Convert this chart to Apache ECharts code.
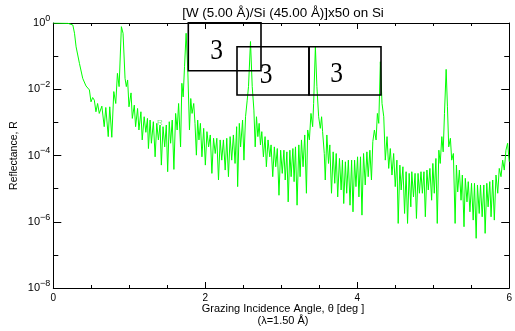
<!DOCTYPE html>
<html><head><meta charset="utf-8">
<script src="https://cdn.jsdelivr.net/npm/echarts@6/dist/echarts.min.js"></script>
<style>html,body{margin:0;padding:0;background:#fff;}#c{width:515px;height:331px;}</style>
</head><body><div id="c"></div>
<script>
// Grazing incidence angle (deg)
const theta = [
0.000,0.192,0.257,0.279,0.300,0.344,0.387,0.430,0.453,0.475,
0.496,0.518,0.540,0.561,0.583,0.605,0.639,0.670,0.691,0.723,
0.743,0.770,0.796,0.822,0.844,0.866,0.896,0.918,0.944,0.961,
0.978,0.996,1.023,1.040,1.066,1.083,1.109,1.127,1.153,1.170,
1.196,1.218,1.239,1.252,1.274,1.291,1.317,1.340,1.362,1.383,
1.405,1.422,1.444,1.466,1.487,1.505,1.526,1.544,1.565,1.587,
1.610,1.630,1.649,1.675,1.692,1.709,1.727,1.748,1.770,1.792,
1.809,1.826,1.848,1.865,1.883,1.900,1.917,1.936,1.956,1.979,
2.001,2.022,2.044,2.066,2.087,2.109,2.131,2.152,2.174,2.196,
2.217,2.239,2.262,2.283,2.305,2.327,2.348,2.370,2.392,2.413,
2.426,2.448,2.465,2.491,2.509,2.530,2.552,2.569,2.595,2.618,
2.640,2.657,2.674,2.692,2.709,2.726,2.744,2.765,2.787,2.804,
2.826,2.849,2.866,2.888,2.909,2.927,2.948,2.970,2.992,3.013,
3.035,3.052,3.074,3.091,3.113,3.130,3.153,3.169,3.187,3.208,
3.231,3.248,3.266,3.287,3.309,3.331,3.348,3.370,3.391,3.413,
3.426,3.449,3.469,3.492,3.514,3.531,3.544,3.566,3.579,3.600,
3.622,3.639,3.661,3.683,3.704,3.723,3.743,3.766,3.788,3.805,
3.822,3.844,3.861,3.883,3.905,3.926,3.944,3.965,3.983,4.004,
4.022,4.043,4.062,4.083,4.105,4.127,4.144,4.166,4.187,4.205,
4.226,4.248,4.265,4.283,4.304,4.326,4.349,4.369,4.392,4.414,
4.435,4.457,4.479,4.500,4.522,4.539,4.561,4.578,4.601,4.623,
4.643,4.662,4.683,4.705,4.718,4.740,4.761,4.779,4.800,4.818,
4.839,4.857,4.878,4.896,4.917,4.935,4.956,4.979,4.995,5.014,
5.035,5.053,5.074,5.092,5.113,5.131,5.148,5.170,5.187,5.204,
5.226,5.243,5.265,5.288,5.305,5.322,5.344,5.366,5.383,5.405,
5.422,5.444,5.461,5.483,5.504,5.526,5.543,5.565,5.582,5.605,
5.622,5.644,5.666,5.683,5.705,5.722,5.744,5.761,5.783,5.804,
5.826,5.849,5.869,5.892,5.914,5.935,5.957,5.979,6.000];

// Reflectance R, read as log10(R)
const logR = [
0.00,-0.01,-0.06,-0.31,-0.72,-1.22,-1.67,-1.90,-1.92,-2.02,
-2.38,-2.25,-2.33,-2.68,-2.43,-2.73,-2.51,-3.13,-2.55,-3.43,
-2.53,-3.45,-2.07,-2.43,-1.52,-1.92,-0.11,-0.31,-1.67,-1.92,
-1.72,-2.53,-2.11,-2.88,-2.48,-3.13,-2.58,-3.23,-2.68,-3.53,
-2.83,-3.30,-2.88,-3.79,-2.93,-3.63,-2.98,-4.04,-3.03,-3.53,
-3.08,-4.29,-3.13,-3.74,-3.08,-4.49,-2.98,-3.63,-2.93,-4.42,
-2.73,-3.23,-2.43,-3.74,-1.82,-2.23,-1.32,-0.31,-1.42,-3.23,
-2.28,-2.73,-2.43,-3.03,-3.99,-2.93,-3.53,-3.03,-4.04,-3.18,
-4.29,-3.28,-3.74,-3.38,-4.54,-3.48,-3.94,-3.48,-4.74,-3.53,
-4.14,-3.53,-4.44,-3.48,-4.64,-3.43,-4.14,-3.38,-4.24,-3.13,
-4.94,-3.03,-3.74,-2.93,-4.14,-2.83,-2.33,-1.92,-0.56,-1.92,
-2.63,-3.74,-2.83,-3.43,-3.03,-3.68,-3.28,-4.04,-3.43,-4.34,
-3.53,-4.04,-3.68,-4.64,-3.74,-4.34,-3.79,-5.20,-3.84,-4.54,
-3.84,-4.74,-3.89,-5.40,-3.84,-4.64,-3.79,-4.79,-3.74,-5.50,
-3.68,-4.64,-3.53,-4.34,-3.38,-5.14,-3.23,-3.53,-2.73,-3.13,
-2.43,-0.72,-1.92,-2.83,-3.18,-2.83,-3.28,-3.94,-4.74,-3.38,
-4.24,-3.68,-5.14,-3.89,-4.84,-3.94,-5.25,-4.09,-5.04,-4.14,
-5.45,-4.19,-5.14,-4.14,-5.50,-4.14,-5.70,-4.14,-4.94,-4.04,
-5.25,-4.04,-5.80,-3.94,-4.89,-3.89,-4.64,-3.84,-4.74,-3.58,
-3.23,-3.53,-2.73,-3.03,-1.17,-2.43,-2.83,-4.14,-3.43,-4.39,
-3.79,-4.59,-3.94,-4.94,-4.14,-6.05,-4.29,-5.04,-4.34,-5.75,
-4.49,-6.05,-4.54,-5.55,-4.49,-5.25,-4.54,-5.90,-4.54,-5.14,
-4.49,-5.14,-4.49,-5.85,-4.44,-5.04,-4.39,-5.35,-4.24,-5.14,
-4.09,-6.05,-3.84,-4.24,-3.43,-3.89,-2.73,-1.40,-2.53,-3.74,
-3.48,-4.14,-3.94,-6.05,-4.29,-5.10,-4.44,-5.35,-4.59,-6.15,
-4.69,-5.40,-4.79,-5.70,-4.84,-5.95,-4.84,-6.50,-4.89,-5.75,
-4.89,-5.85,-4.89,-6.35,-4.84,-5.55,-4.79,-5.85,-4.74,-5.95,
-4.59,-5.14,-4.39,-4.64,-4.14,-4.44,-3.84,-3.63,-4.19];

const xTickValues = [0, 2, 4, 6];
const xTickLabels = ['0', '2', '4', '6'];
const yTickValues = [-8, -6, -4, -2, 0];
const yTickSup = ['\u22128', '\u22126', '\u22124', '\u22122', '0'];

const titleText = '[W (5.00 \u00c5)/Si (45.00 \u00c5)]x50 on Si';
const xTitle1 = 'Grazing Incidence Angle, \u03b8 [deg ]';
const xTitle2 = '(\u03bb=1.50 \u00c5)';
const yTitle = 'Reflectance, R';
const boxGlyphs = ['3', '3', '3'];

const FONT = 'Liberation Sans, Arial, sans-serif';
const chart = echarts.init(document.getElementById('c'), null, {renderer: 'canvas'});

function xAxisCfg(pos, labels) {
  return {
    type: 'value', min: 0, max: 6, interval: 2, position: pos,
    axisLine: {show: true, onZero: false, lineStyle: {color: '#000', width: 1}},
    axisTick: {show: true, inside: true, length: 6, lineStyle: {color: '#000', width: 1}},
    minorTick: {show: true, splitNumber: 4, length: 3, lineStyle: {color: '#000', width: 1}},
    splitLine: {show: false}, minorSplitLine: {show: false},
    axisLabel: {
      show: labels, color: '#000', fontSize: 10, fontFamily: FONT, margin: 5,
      formatter: v => { const i = xTickValues.indexOf(Math.round(v)); return i >= 0 ? xTickLabels[i] : ''; }
    }
  };
}
function yAxisCfg(pos, labels) {
  return {
    type: 'value', min: -8, max: 0, interval: 2, position: pos,
    axisLine: {show: true, onZero: false, lineStyle: {color: '#000', width: 1}},
    axisTick: {show: true, inside: true, length: 8, lineStyle: {color: '#000', width: 1}},
    minorTick: {show: true, splitNumber: 2, length: 5, lineStyle: {color: '#000', width: 1}},
    splitLine: {show: false}, minorSplitLine: {show: false},
    axisLabel: {
      show: labels, color: '#000', margin: 3, fontFamily: FONT,
      formatter: v => { const i = yTickValues.indexOf(Math.round(v)); return i >= 0 ? '{b|10}{s|' + yTickSup[i] + '}' : ''; },
      rich: {
        b: {fontSize: 11, lineHeight: 18, fontFamily: FONT, color: '#000'},
        s: {fontSize: 9, lineHeight: 9, verticalAlign: 'top', fontFamily: FONT, color: '#000'}
      }
    }
  };
}

const glyphStyle = {fontSize: 30, fontFamily: 'Liberation Serif, serif', fill: '#000', align: 'center', verticalAlign: 'middle', textAlign: 'center', textVerticalAlign: 'middle'};

chart.setOption({
  animation: false,
  backgroundColor: '#fff',
  grid: {left: 53.3, right: 1.7, top: 23, bottom: 43, containLabel: false},
  xAxis: [xAxisCfg('bottom', true), xAxisCfg('top', false)],
  yAxis: [yAxisCfg('left', true), yAxisCfg('right', false)],
  series: [{
    type: 'line', xAxisIndex: 0, yAxisIndex: 0,
    data: theta.map((t, i) => [t, logR[i]]),
    showSymbol: false, symbol: 'none', silent: true, clip: true,
    lineStyle: {color: '#00ff00', width: 1}
  }],
  graphic: [
    {type: 'text', x: 283, y: 13, z: 100, style: {text: titleText, fontSize: 13.4, fontFamily: FONT, fill: '#000', align: 'center', verticalAlign: 'middle', textAlign: 'center', textVerticalAlign: 'middle'}},
    {type: 'text', x: 283, y: 309, z: 100, style: {text: xTitle1, fontSize: 11, fontFamily: FONT, fill: '#000', align: 'center', verticalAlign: 'middle', textAlign: 'center', textVerticalAlign: 'middle'}},
    {type: 'text', x: 283, y: 320.5, z: 100, style: {text: xTitle2, fontSize: 11, fontFamily: FONT, fill: '#000', align: 'center', verticalAlign: 'middle', textAlign: 'center', textVerticalAlign: 'middle'}},
    {type: 'text', x: 14, y: 155.5, rotation: Math.PI / 2, z: 100, style: {text: yTitle, fontSize: 10.5, fontFamily: FONT, fill: '#000', align: 'center', verticalAlign: 'middle', textAlign: 'center', textVerticalAlign: 'middle'}},
    {type: 'text', x: 160, y: 123, z: 100, style: {text: 'R', fontSize: 8, fontFamily: FONT, fill: '#77ee77', align: 'center', verticalAlign: 'middle', textAlign: 'center', textVerticalAlign: 'middle'}},
    {type: 'rect', z: 100, shape: {x: 188.3, y: 22.7, width: 72.7, height: 48}, style: {fill: 'none', stroke: '#000', lineWidth: 1.6}},
    {type: 'rect', z: 100, shape: {x: 237, y: 46.7, width: 72, height: 48.3}, style: {fill: 'none', stroke: '#000', lineWidth: 1.6}},
    {type: 'rect', z: 100, shape: {x: 309, y: 46.7, width: 72, height: 48.3}, style: {fill: 'none', stroke: '#000', lineWidth: 1.6}},
    {type: 'text', x: 216.7, y: 51, scaleX: 0.85, z: 100, style: Object.assign({text: boxGlyphs[0]}, glyphStyle)},
    {type: 'text', x: 266, y: 75, scaleX: 0.85, z: 100, style: Object.assign({text: boxGlyphs[1]}, glyphStyle)},
    {type: 'text', x: 336.7, y: 74, scaleX: 0.85, z: 100, style: Object.assign({text: boxGlyphs[2]}, glyphStyle)}
  ]
});
</script>
</body></html>
